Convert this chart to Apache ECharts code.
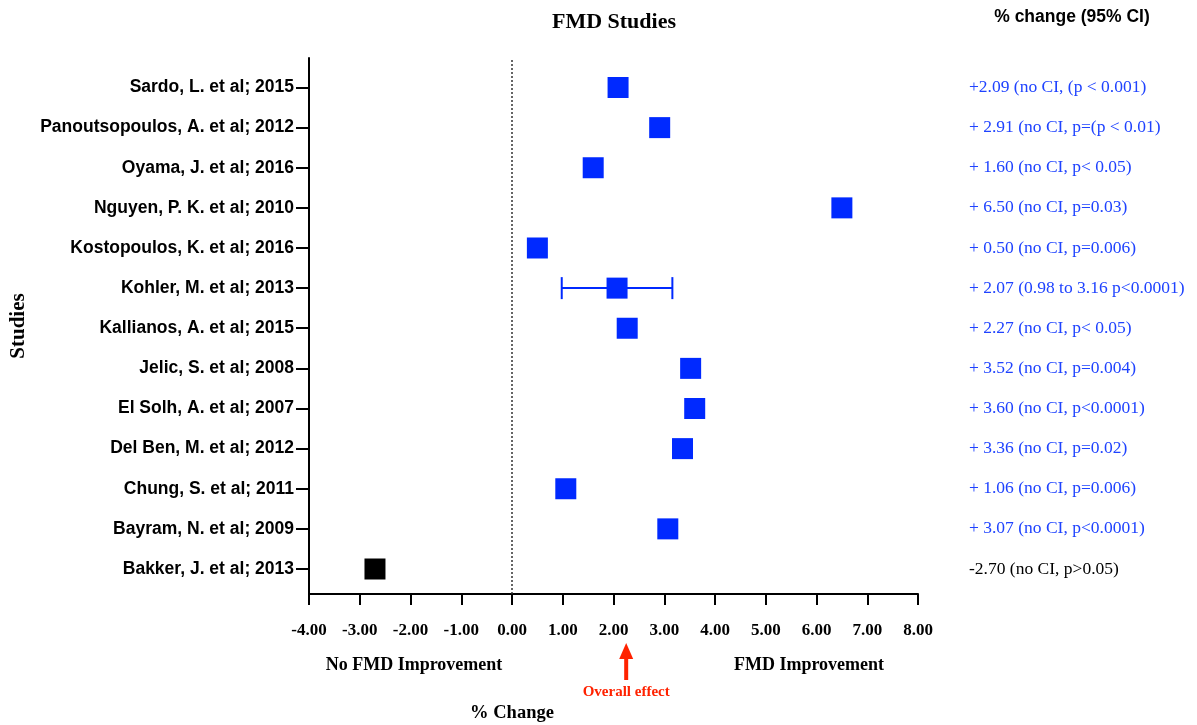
<!DOCTYPE html>
<html><head><meta charset="utf-8">
<script src="https://cdn.jsdelivr.net/npm/echarts@6/dist/echarts.min.js"></script>
<style>html,body{margin:0;padding:0;background:#fff}#c{width:1197px;height:725px}</style>
</head><body><div id="c"></div>
<script>
// Studies listed top to bottom
const studies = [
  "Sardo, L. et al; 2015",
  "Panoutsopoulos, A. et al; 2012",
  "Oyama, J. et al; 2016",
  "Nguyen, P. K. et al; 2010",
  "Kostopoulos, K. et al; 2016",
  "Kohler, M. et al; 2013",
  "Kallianos, A. et al; 2015",
  "Jelic, S. et al; 2008",
  "El Solh, A. et al; 2007",
  "Del Ben, M. et al; 2012",
  "Chung, S. et al; 2011",
  "Bayram, N. et al; 2009",
  "Bakker, J. et al; 2013"
];
const changes = [2.09, 2.91, 1.60, 6.50, 0.50, 2.07, 2.27, 3.52, 3.60, 3.36, 1.06, 3.07, -2.70];
const ciLower = [null, null, null, null, null, 0.98, null, null, null, null, null, null, null];
const ciUpper = [null, null, null, null, null, 3.16, null, null, null, null, null, null, null];
const resultLabels = [
  "+2.09 (no CI, (p < 0.001)",
  "+ 2.91 (no CI, p=(p < 0.01)",
  "+ 1.60 (no CI, p< 0.05)",
  "+ 6.50 (no CI, p=0.03)",
  "+ 0.50 (no CI, p=0.006)",
  "+ 2.07 (0.98 to 3.16 p<0.0001)",
  "+ 2.27 (no CI, p< 0.05)",
  "+ 3.52 (no CI, p=0.004)",
  "+ 3.60 (no CI, p<0.0001)",
  "+ 3.36 (no CI, p=0.02)",
  "+ 1.06 (no CI, p=0.006)",
  "+ 3.07 (no CI, p<0.0001)",
  "-2.70 (no CI, p>0.05)"
];
const xMin = -4, xMax = 8, xStep = 1;
const overallEffect = 2.25;

const n = studies.length;
const rowOf = i => n - i;           // Sardo -> 13, Bakker -> 1
const rows = studies.map((s, i) => rowOf(i));

const BLUE = '#0029ff';
const TEXT_BLUE = '#1f43ff';
const SERIF = '"Liberation Serif", "Times New Roman", serif';
const SANS = '"Liberation Sans", Arial, sans-serif';

const pointData = changes.map((v, i) => [v, rowOf(i)]);
const ciData = [];
changes.forEach((v, i) => { if (ciLower[i] != null) ciData.push([ciLower[i], ciUpper[i], rowOf(i)]); });

const chart = echarts.init(document.getElementById('c'), null, {renderer: 'canvas'});

const yCommon = {
  type: 'value', min: 0.377, max: 13.735,
  splitLine: {show: false}
};

chart.setOption({
  animation: false,
  backgroundColor: '#fff',
  grid: {left: 309, right: 279, top: 58, bottom: 131, containLabel: false},
  xAxis: {
    type: 'value', min: xMin, max: xMax, interval: xStep,
    axisLine: {show: true, lineStyle: {color: '#000', width: 2}},
    axisTick: {show: true, length: 11, lineStyle: {color: '#000', width: 2}},
    axisLabel: {
      margin: 28, color: '#000', fontFamily: SERIF, fontWeight: 'bold', fontSize: 17,
      formatter: v => v.toFixed(2)
    },
    splitLine: {show: false}
  },
  yAxis: [
    Object.assign({}, yCommon, {
      position: 'left',
      name: 'Studies', nameLocation: 'middle', nameGap: 280, nameRotate: 90,
      nameTextStyle: {fontFamily: SERIF, fontWeight: 'bold', fontSize: 21, color: '#000'},
      axisLine: {show: true, onZero: false, lineStyle: {color: '#000', width: 2}},
      axisTick: {show: true, length: 13, lineStyle: {color: '#000', width: 2}, customValues: rows},
      axisLabel: {
        show: true, margin: 15, color: '#000', fontFamily: SANS, fontWeight: 'bold', fontSize: 17.5,
        customValues: rows,
        formatter: v => studies[n - Math.round(v)] || ''
      }
    }),
    Object.assign({}, yCommon, {
      position: 'right',
      axisLine: {show: false},
      axisTick: {show: false},
      axisLabel: {
        show: true, margin: 51, align: 'left', fontFamily: SERIF, fontSize: 17.5,
        customValues: rows,
        color: v => (changes[n - Math.round(v)] < 0 ? '#000' : TEXT_BLUE),
        formatter: v => resultLabels[n - Math.round(v)] || ''
      }
    })
  ],
  series: [
    {
      type: 'custom', name: 'CI', z: 2,
      data: ciData,
      renderItem: (params, api) => {
        const p1 = api.coord([api.value(0), api.value(2)]);
        const p2 = api.coord([api.value(1), api.value(2)]);
        const h = 11;
        const style = {stroke: BLUE, lineWidth: 2};
        return {type: 'group', children: [
          {type: 'line', shape: {x1: p1[0], y1: p1[1], x2: p2[0], y2: p2[1]}, style},
          {type: 'line', shape: {x1: p1[0], y1: p1[1] - h, x2: p1[0], y2: p1[1] + h}, style},
          {type: 'line', shape: {x1: p2[0], y1: p2[1] - h, x2: p2[0], y2: p2[1] + h}, style}
        ]};
      }
    },
    {
      type: 'scatter', name: 'Change', z: 3,
      symbol: 'rect', symbolSize: 21,
      data: pointData,
      itemStyle: {opacity: 1, color: p => (p.value[0] < 0 ? '#000' : BLUE)},
      markLine: {
        silent: true, symbol: ['none', 'none'],
        label: {show: false},
        lineStyle: {type: [2, 2], color: '#333', width: 1.5},
        data: [{xAxis: 0}]
      }
    }
  ],
  graphic: []
});

// annotation texts and overall-effect arrow placed via the axis scale
const xPix = v => chart.convertToPixel({xAxisIndex: 0}, v);
const ax = xPix(overallEffect);
chart.setOption({
  graphic: [
    {type: 'text', x: 614, y: 22, style: {text: 'FMD Studies', font: 'bold 22px ' + SERIF, fill: '#000', align: 'center', verticalAlign: 'middle'}},
    {type: 'text', x: 1072, y: 17, style: {text: '% change (95% CI)', font: 'bold 17.5px ' + SANS, fill: '#000', align: 'center', verticalAlign: 'middle'}},
    {type: 'text', x: 414, y: 665, style: {text: 'No FMD Improvement', font: 'bold 18px ' + SERIF, fill: '#000', align: 'center', verticalAlign: 'middle'}},
    {type: 'text', x: 809, y: 665, style: {text: 'FMD Improvement', font: 'bold 18px ' + SERIF, fill: '#000', align: 'center', verticalAlign: 'middle'}},
    {type: 'text', x: 512, y: 713, style: {text: '% Change', font: 'bold 18.5px ' + SERIF, fill: '#000', align: 'center', verticalAlign: 'middle'}},
    {type: 'text', x: ax, y: 692, style: {text: 'Overall effect', font: 'bold 15px ' + SERIF, fill: '#ff2200', align: 'center', verticalAlign: 'middle'}},
    {type: 'polygon', shape: {points: [
      [ax, 643], [ax + 7, 659], [ax + 2, 659], [ax + 2, 680],
      [ax - 2, 680], [ax - 2, 659], [ax - 7, 659]
    ]}, style: {fill: '#ff2200'}}
  ]
});
</script>
</body></html>
